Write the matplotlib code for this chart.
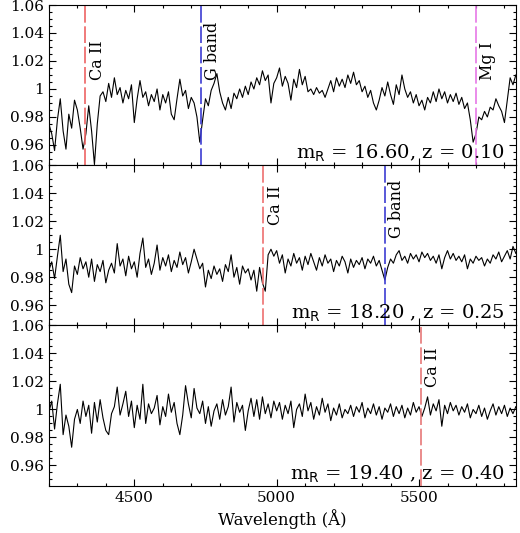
import numpy as np
import matplotlib
matplotlib.use("Agg")
import matplotlib.pyplot as plt
from matplotlib.ticker import MultipleLocator, FixedLocator, FuncFormatter

# wavelength sampling (Angstrom) shared by the three spectra
wave = np.arange(4200, 5841, 10)

# normalised flux (top to bottom)
flux_z010 = [
    0.975, 0.968, 0.956, 0.978, 0.993, 0.970, 0.957, 0.982, 0.972, 0.992,
    0.985, 0.972, 0.957, 0.968, 0.988, 0.970, 0.946, 0.975, 0.995, 0.998,
    0.991, 1.004, 0.994, 1.008, 0.996, 1.001, 0.990, 0.999, 0.993, 1.003,
    0.976, 0.993, 1.006, 0.994, 0.998, 0.988, 0.996, 0.991, 1.000, 0.985,
    0.996, 0.990, 0.998, 0.982, 0.978, 0.993, 1.007, 0.995, 0.999, 0.986,
    0.994, 0.990, 0.980, 0.962, 0.978, 0.993, 0.988, 0.999, 1.004, 1.011,
    0.998, 0.990, 0.985, 0.994, 0.986, 0.997, 0.993, 1.000, 0.994, 1.002,
    0.996, 1.005, 1.000, 1.008, 1.003, 1.013, 1.006, 1.010, 0.990, 1.004,
    1.008, 1.015, 1.002, 1.009, 1.004, 0.992, 1.007, 1.001, 1.014, 1.003,
    1.009, 0.998, 1.000, 0.996, 1.001, 0.997, 0.999, 0.994, 1.000, 1.006,
    0.998, 1.008, 1.002, 1.007, 1.001, 1.010, 1.004, 1.012, 1.003, 1.006,
    0.998, 1.002, 0.994, 0.999, 0.990, 0.985, 0.992, 1.001, 0.995, 1.005,
    0.996, 0.989, 1.003, 0.996, 1.010, 1.000, 0.994, 0.998, 0.990, 0.996,
    0.988, 0.992, 0.985, 0.994, 0.990, 0.998, 0.991, 1.000, 0.993, 0.998,
    0.990, 0.996, 0.991, 0.997, 0.989, 0.994, 0.986, 0.990, 0.978, 0.962,
    0.968, 0.980, 0.978, 0.984, 0.980, 0.987, 0.985, 0.993, 0.988, 0.984,
    0.976, 0.992, 1.008, 1.003, 1.010,
]
flux_z025 = [
    0.985, 0.991, 0.979, 0.995, 1.010, 0.984, 0.993, 0.975, 0.969, 0.988,
    0.982, 0.994, 0.986, 0.991, 0.980, 0.993, 0.977, 0.989, 0.984, 0.992,
    0.976, 0.985, 0.990, 0.983, 1.004, 0.988, 0.993, 0.981, 0.995, 0.986,
    0.991, 0.980, 0.997, 1.008, 0.987, 0.993, 0.982, 0.990, 1.003, 0.985,
    0.994, 0.988, 0.996, 0.984, 0.992, 0.987, 0.998, 0.989, 0.994, 0.983,
    0.991, 1.000, 0.993, 0.986, 0.990, 0.973, 0.985, 0.979, 0.988, 0.982,
    0.986, 0.977, 0.989, 0.984, 0.996, 0.980, 0.987, 0.975, 0.988, 0.983,
    0.986, 0.978, 0.985, 0.970, 0.987, 0.976, 0.970, 0.996, 1.000, 0.995,
    0.999, 0.990, 0.996, 0.983, 0.993, 0.988, 0.997, 0.990, 0.994, 0.985,
    0.995, 0.989, 0.997, 0.991, 0.985, 0.994, 0.988, 0.996, 0.990, 0.993,
    0.984, 0.992, 0.988, 0.995, 0.991, 0.983, 0.993, 0.987, 0.992, 0.989,
    0.994, 0.986, 0.993, 0.990, 0.995, 0.988, 0.992, 0.985, 0.978, 0.987,
    0.993, 0.990, 0.996, 0.999, 0.992, 0.995, 0.990, 0.997, 0.993, 0.996,
    0.991, 0.998, 0.994, 0.997, 0.992, 0.995, 0.990, 0.996, 0.986, 0.994,
    0.999, 0.993, 0.997, 0.992, 0.995, 0.991, 0.996, 0.986, 0.993, 0.990,
    0.995, 0.992, 0.994, 0.988, 0.993, 0.990, 0.996, 0.993, 0.998, 0.991,
    0.995, 0.999, 0.993, 1.002, 0.997,
]
flux_z040 = [
    0.998, 1.006, 0.986, 1.004, 1.018, 0.982, 0.996, 0.988, 0.973, 0.993,
    1.000, 0.990, 1.006, 0.995, 1.003, 0.983, 1.005, 0.991, 1.007, 0.994,
    0.985, 0.982, 0.997, 1.002, 1.016, 0.996, 1.004, 1.013, 0.995, 1.006,
    0.987, 1.003, 0.993, 1.018, 0.990, 1.004, 0.997, 1.001, 1.010, 0.989,
    1.002, 0.995, 1.011, 0.998, 1.005, 0.990, 0.982, 0.996, 1.017, 1.004,
    0.994, 1.015, 1.001, 0.997, 1.006, 0.990, 1.002, 0.988, 0.999, 1.004,
    0.993, 1.007, 0.996, 1.002, 1.016, 0.991, 1.005, 0.998, 1.003, 0.985,
    0.999, 1.008, 0.995, 1.007, 0.993, 1.009, 0.997, 1.004, 0.994, 1.006,
    0.999, 1.005, 0.993, 1.003, 0.997, 1.006, 0.987, 1.000, 1.004, 0.995,
    1.011, 0.999, 1.005, 0.993, 1.002, 0.996, 1.008, 0.998, 1.004, 0.992,
    1.001, 0.996, 1.004, 0.994, 1.000, 0.997, 1.003, 0.995, 1.002, 0.998,
    1.005, 0.994, 1.001, 0.997, 1.004, 0.996, 1.002, 0.993, 1.001, 0.998,
    1.004, 0.995, 1.002, 0.997, 1.003, 0.994, 1.001, 0.996, 1.005, 0.998,
    1.002, 0.995, 1.001, 1.009, 0.996, 1.004, 0.999, 1.007, 0.988, 1.003,
    0.997, 1.005, 0.999, 1.003, 0.996, 1.002, 0.998, 1.004, 0.994, 1.000,
    0.997, 1.003, 0.995, 1.001, 0.993, 0.999, 1.004, 0.996, 1.002, 0.997,
    1.003, 0.995, 1.001, 0.997, 1.002,
]

# per-panel annotations: feature name, observed wavelength, colour, label bottom
features = [
    [("Ca II", 4327, "#ee6464", 1.0065), ("G band", 4733, "#3c3cd2", 1.0065),
     ("Mg I", 5700, "#e678e6", 1.0065)],
    [("Ca II", 4953, "#ee7070", 1.017), ("G band", 5380, "#3c3cd2", 1.008)],
    [("Ca II", 5507, "#e67878", 1.016)],
]
captions = [
    r"m$_{\rm R}$ = 16.60, z = 0.10",
    r"m$_{\rm R}$ = 18.20 , z = 0.25",
    r"m$_{\rm R}$ = 19.40 , z = 0.40",
]
spectra = [flux_z010, flux_z025, flux_z040]

plt.rcParams["font.family"] = ["DejaVu Serif"]

fig, axes = plt.subplots(3, 1, sharex=True, figsize=(5.2, 5.33), dpi=100)
fig.subplots_adjust(left=0.094, right=0.992, top=0.9906, bottom=0.0887, hspace=0)

for ax, flux, feats, cap in zip(axes, spectra, features, captions):
    ax.plot(wave, flux, color="black", lw=0.8)

    for name, lam, col, ybot in feats:
        ax.axvline(lam, color=col, lw=1.2, dashes=(10, 2.2))
        ax.annotate(name, xy=(lam, ybot), xytext=(2.5, 0), textcoords="offset points",
                    rotation=90, ha="left", va="bottom", fontsize=11.5)

    ax.text(0.976, 0.04, cap, transform=ax.transAxes, ha="right", va="baseline",
            fontsize=14)

    ax.set_xlim(4200, 5840)
    ax.set_ylim(0.9455, 1.06)
    ax.yaxis.set_major_locator(FixedLocator([0.96, 0.98, 1.0, 1.02, 1.04, 1.06]))
    ax.yaxis.set_minor_locator(MultipleLocator(0.005))
    ax.yaxis.set_major_formatter(FuncFormatter(lambda v, p: "%g" % round(v, 2)))
    ax.xaxis.set_major_locator(MultipleLocator(500))
    ax.xaxis.set_minor_locator(MultipleLocator(100))
    ax.tick_params(which="both", direction="in", top=True, right=True, labelsize=11)
    ax.tick_params(which="major", length=5, width=0.8)
    ax.tick_params(which="minor", length=2.5, width=0.8)

axes[-1].set_xlabel("Wavelength (Å)", fontsize=12, labelpad=3)

fig.savefig("out.png", dpi=100)
